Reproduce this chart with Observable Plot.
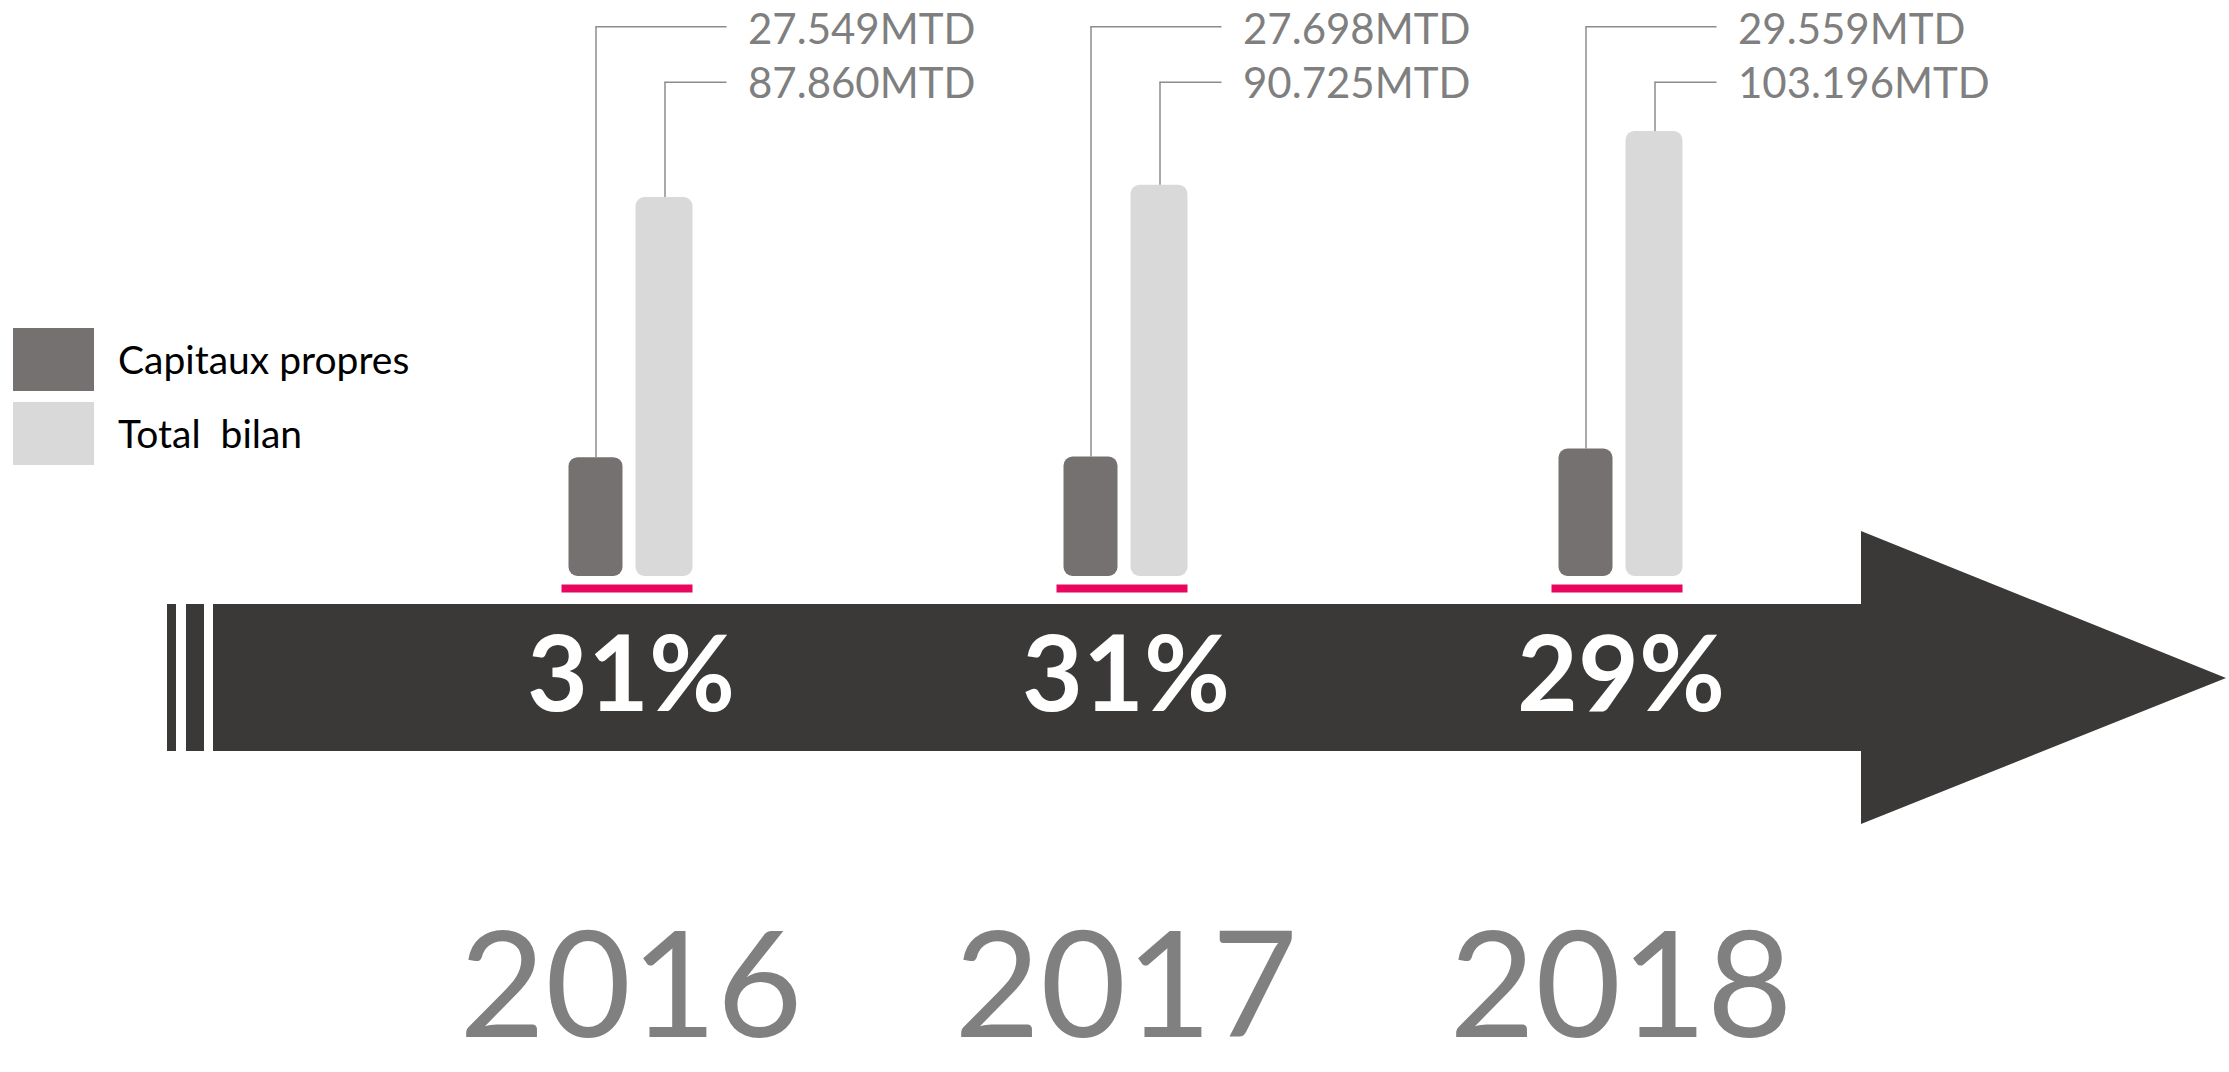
<!DOCTYPE html>
<html><head><meta charset="utf-8">
<script src="https://cdn.jsdelivr.net/npm/d3@7"></script>
<script src="https://cdn.jsdelivr.net/npm/@observablehq/plot@0.6"></script>
<style>
html,body{margin:0;padding:0;background:#fff;}
#wrap{position:relative;width:2229px;height:1072px;overflow:hidden;}
#legend{position:absolute;left:13px;top:328px;font-family:Lato, sans-serif;font-size:39px;color:#000;}
.item{display:flex;align-items:center;height:63px;margin-bottom:11px;}
.sw{width:81px;height:63px;margin-right:24px;flex:none;}
.lab{white-space:pre;line-height:1;}
</style></head>
<body><div id="wrap"><div id="legend"></div></div>
<script>
// ---- data ----
const years = ["2016", "2017", "2018"];
const capitauxPropres = [27.549, 27.698, 29.559];   // MTD
const totalBilan = [87.860, 90.725, 103.196];        // MTD
const seriesNames = ["Capitaux propres", "Total  bilan"];
const seriesColors = ["#767171", "#d9d9d9"];
const unit = "MTD";

const rows = years.map((y, i) => ({
  year: y,
  cap: capitauxPropres[i],
  tot: totalBilan[i],
  ratio: Math.round(capitauxPropres[i] / totalBilan[i] * 100) + "%"
}));
const fmt = v => v.toFixed(3) + unit;

const LEVEL_DARK = 127.5, LEVEL_LIGHT = 114.6;
const leader = {stroke: "#8c8c8c", strokeWidth: 1.5};

const chart = Plot.plot({
  width: 2229, height: 1072,
  marginTop: 24, marginBottom: 496, marginLeft: 382.5, marginRight: 361.5,
  style: {fontFamily: "Lato, sans-serif", background: "transparent"},
  x: {domain: years, padding: 0, axis: null},
  y: {domain: [0, 128], axis: null},
  marks: [
    Plot.barY(rows, {x: "year", y: "cap", fill: seriesColors[0], insetLeft: 185.5, insetRight: 255.5, rx: 9}),
    Plot.barY(rows, {x: "year", y: "tot", fill: seriesColors[1], insetLeft: 252.5, insetRight: 185.5, rx: 9}),
    Plot.tickY(rows, {x: "year", y: 0, dy: 12, stroke: "#e8065e", strokeWidth: 8, insetLeft: 178.5, insetRight: 185.5}),
    Plot.ruleX(rows, {x: "year", y1: "cap", y2: LEVEL_DARK, dx: -35, ...leader}),
    Plot.ruleX(rows, {x: "year", y1: "tot", y2: LEVEL_LIGHT, dx: 34, ...leader}),
    Plot.tickY(rows, {x: "year", y: LEVEL_DARK, insetLeft: 212.5, insetRight: 151.5, ...leader}),
    Plot.tickY(rows, {x: "year", y: LEVEL_LIGHT, insetLeft: 281.5, insetRight: 151.5, ...leader}),
    Plot.text(rows, {x: "year", y: LEVEL_DARK, text: d => fmt(d.cap), dx: 117, dy: 4, textAnchor: "start", fill: "#7f7f7f", fontSize: 42}),
    Plot.text(rows, {x: "year", y: LEVEL_LIGHT, text: d => fmt(d.tot), dx: 117, dy: 2, textAnchor: "start", fill: "#7f7f7f", fontSize: 42}),
    Plot.text(rows, {x: "year", y: 0, dy: 101, text: "ratio", fill: "#ffffff", fontSize: 105, fontWeight: "bold"}),
    Plot.text(rows, {x: "year", y: 0, dy: 413, text: "year", fill: "#808080", fontSize: 148})
  ]
});

// decorative timeline arrow behind the marks
const svg = d3.select(chart);
const deco = svg.insert("g", ":first-child").attr("fill", "#3b3937");
deco.append("path").attr("d", "M213,604 H1861 V531 L2226,678 L1861,824 V751 H213 Z");
deco.append("rect").attr("x", 167).attr("y", 604).attr("width", 9).attr("height", 147);
deco.append("rect").attr("x", 186).attr("y", 604).attr("width", 18).attr("height", 147);

document.getElementById("wrap").prepend(chart);

// legend
const legend = d3.select("#legend");
seriesNames.forEach((name, i) => {
  const it = legend.append("div").attr("class", "item");
  it.append("div").attr("class", "sw").style("background", seriesColors[i]);
  it.append("div").attr("class", "lab").text(name);
});
</script>
</body></html>
